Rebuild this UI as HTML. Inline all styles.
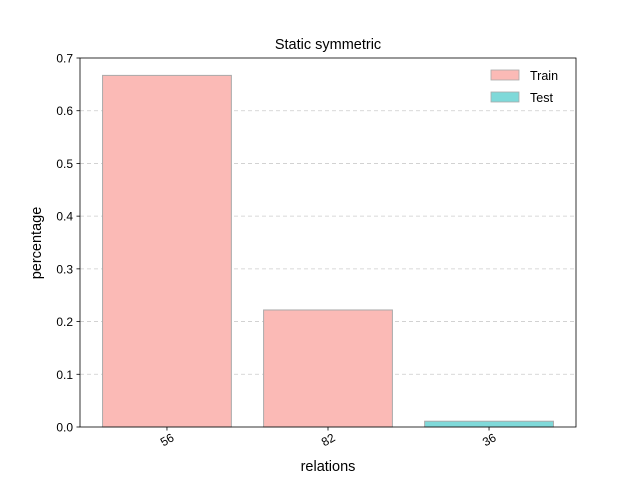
<!DOCTYPE html>
<html>
<head>
<meta charset="utf-8">
<style>
html,body{margin:0;padding:0;background:#fff;}
svg{display:block;font-family:"Liberation Sans","DejaVu Sans",sans-serif;}
</style>
</head>
<body>
<svg id="chart" width="640" height="480" viewBox="0 0 640 480">
  <rect width="640" height="480" fill="#fff"/>
  <g id="grid"></g>
  <g id="bars"></g>
  <g id="axes"></g>
  <text x="328" y="49" font-size="14.5" text-anchor="middle">Static symmetric</text>
  <text x="328" y="471" font-size="14.5" text-anchor="middle">relations</text>
  <text x="0" y="0" font-size="14.5" text-anchor="middle" transform="translate(41,243) rotate(-90)">percentage</text>
  <g>
    <rect x="491" y="70" width="28" height="10" fill="#fbbab6" stroke="#aaa" stroke-width="0.8"/>
    <text x="530" y="80" font-size="12.5">Train</text>
    <rect x="491" y="92" width="28" height="10" fill="#7fd9d9" stroke="#aaa" stroke-width="0.8"/>
    <text x="530" y="102" font-size="12.5">Test</text>
  </g>
</svg>
<script>
const categories = ["56", "82", "36"];
const seriesName = ["Train", "Train", "Test"];
const values = [0.667, 0.222, 0.011];
const yTicks = [0, 0.1, 0.2, 0.3, 0.4, 0.5, 0.6, 0.7];
const yTickLabels = ["0.0", "0.1", "0.2", "0.3", "0.4", "0.5", "0.6", "0.7"];

const NS = "http://www.w3.org/2000/svg";
const L = 80, R = 576, T = 58, B = 427;
const xMin = -0.54, xMax = 2.54, yMax = 0.7;
const xs = v => L + (v - xMin) / (xMax - xMin) * (R - L);
const ys = v => B - v / yMax * (B - T);
function mk(tag, attrs, parent) {
  const e = document.createElementNS(NS, tag);
  for (const k in attrs) e.setAttribute(k, attrs[k]);
  parent.appendChild(e);
  return e;
}
const grid = document.getElementById("grid");
const bars = document.getElementById("bars");
const axes = document.getElementById("axes");

yTicks.forEach((t, i) => {
  const y = ys(t);
  if (i > 0 && i < yTicks.length - 1) {
    const g = mk("line", {x1: L, x2: R, y1: y, y2: y, stroke: "#ccc", "stroke-dasharray": "4,3", "stroke-width": 0.8}, grid);
    
    
  }
  const tk = mk("line", {x1: L - 3.5, x2: L, y1: y, y2: y, stroke: "#000", "stroke-width": 0.8}, axes);
  
  
  const tx = mk("text", {x: L - 7, y: y + 4.5, "font-size": 12, "text-anchor": "end"}, axes);
  tx.textContent = yTickLabels[i];
  
  
});

categories.forEach((c, i) => {
  const x0 = xs(i - 0.4), x1 = xs(i + 0.4);
  const y = ys(values[i]);
  const r = mk("rect", {x: x0, y: y, width: x1 - x0, height: B - y,
    fill: seriesName[i] === "Train" ? "#fbbab6" : "#7fd9d9", stroke: "#aaa", "stroke-width": 1}, bars);
  
  
  const cx = xs(i);
  const tk = mk("line", {x1: cx, x2: cx, y1: B, y2: B + 3.5, stroke: "#000", "stroke-width": 0.8}, axes);
  
  
  const tx = mk("text", {x: 0, y: 0, "font-size": 12, "text-anchor": "end",
    transform: "translate(" + (cx + 8) + "," + (B + 13) + ") rotate(-30)"}, axes);
  tx.textContent = c;
  
  
});

const frame = mk("rect", {x: L, y: T, width: R - L, height: B - T, fill: "none", stroke: "#000", "stroke-width": 0.8}, axes);


</script>
</body>
</html>
